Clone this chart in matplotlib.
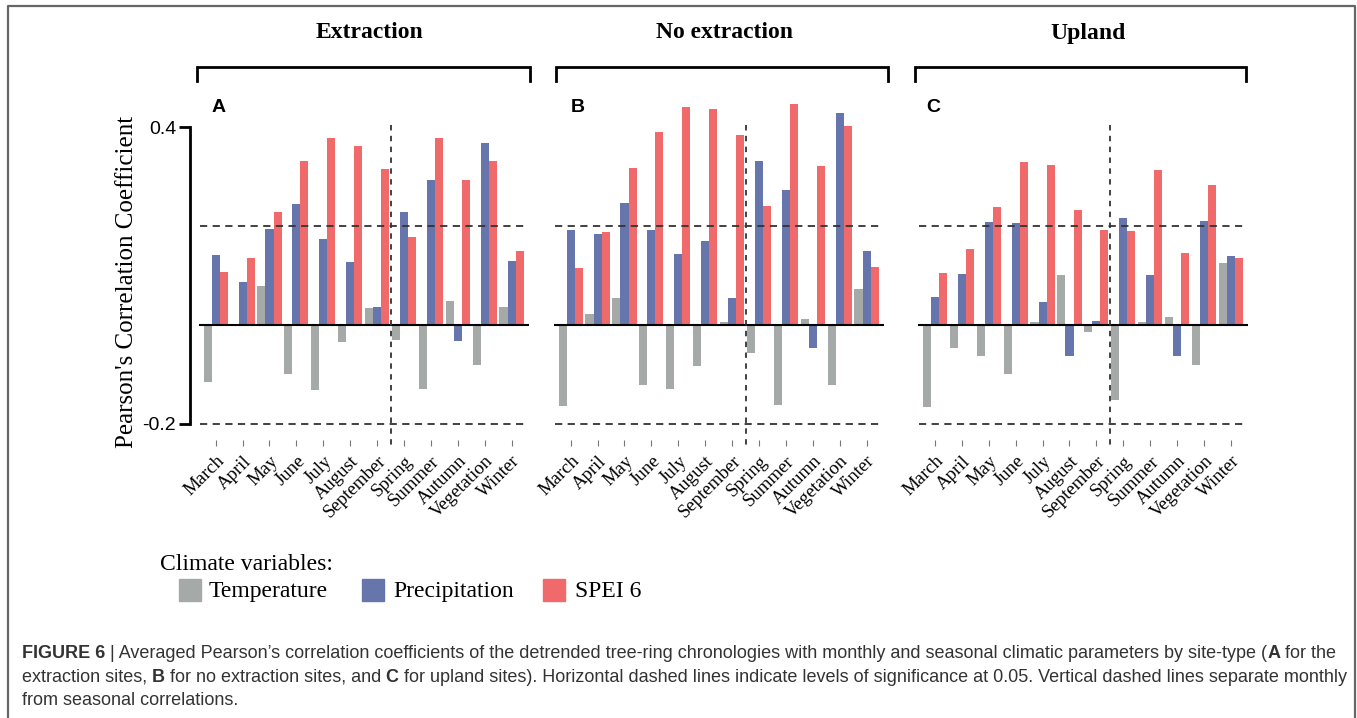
import numpy as np
import matplotlib
matplotlib.use("Agg")
import matplotlib.pyplot as plt
from matplotlib.patches import Rectangle

W, H = 1357, 718
SERIF = "Liberation Serif"
SANS = "Liberation Sans"

periods = ["March", "April", "May", "June", "July", "August", "September",
           "Spring", "Summer", "Autumn", "Vegetation", "Winter"]

# A - extraction sites
temp_a = [-0.116, 0.0, 0.078, -0.099, -0.132, -0.034, 0.033, -0.030, -0.130, 0.047, -0.081, 0.035]
prec_a = [0.141, 0.086, 0.193, 0.245, 0.174, 0.126, 0.036, 0.228, 0.292, -0.032, 0.368, 0.129]
spei_a = [0.106, 0.134, 0.228, 0.332, 0.378, 0.361, 0.316, 0.177, 0.378, 0.292, 0.332, 0.149]

# B - no extraction sites
temp_b = [-0.164, 0.022, 0.055, -0.121, -0.130, -0.083, 0.005, -0.057, -0.163, 0.012, -0.122, 0.072]
prec_b = [0.191, 0.183, 0.247, 0.191, 0.143, 0.169, 0.054, 0.331, 0.272, -0.047, 0.428, 0.150]
spei_b = [0.114, 0.188, 0.318, 0.390, 0.441, 0.436, 0.384, 0.241, 0.447, 0.322, 0.403, 0.117]

# C - upland sites
temp_c = [-0.166, -0.047, -0.064, -0.099, 0.005, 0.101, -0.014, -0.152, 0.005, 0.015, -0.082, 0.124]
prec_c = [0.057, 0.102, 0.207, 0.206, 0.045, -0.064, 0.007, 0.216, 0.101, -0.063, 0.209, 0.139]
spei_c = [0.105, 0.153, 0.239, 0.329, 0.324, 0.232, 0.191, 0.189, 0.313, 0.146, 0.282, 0.134]

signif = 0.2
panel_titles = ["Extraction", "No extraction", "Upland"]
panel_letters = ["A", "B", "C"]
legend_labels = ["Temperature", "Precipitation", "SPEI 6"]

c_temp = "#a5aaa8"
c_prec = "#6676ad"
c_spei = "#f0696b"

fig = plt.figure(figsize=(W / 100, H / 100), dpi=100)

# background axes in pixel coordinates for all the decoration
bg = fig.add_axes([0, 0, 1, 1])
bg.set_xlim(0, W)
bg.set_ylim(H, 0)
bg.axis("off")

# frame (open at the bottom)
bg.plot([8, 8, 1355, 1355], [H + 5, 6, 6, H + 5], color="#666666", lw=1.6, clip_on=False)


def px_axes(left, top, right, bottom):
    return fig.add_axes([left / W, 1 - bottom / H, (right - left) / W, (bottom - top) / H])


unit = 26.9
xlo, xhi = -0.955, 11.65
ylo, yhi = -0.2333, 0.479
lefts = [190, 545, 909.3]
brackets = [(197, 530), (556, 888), (915, 1246)]
title_x = [369, 725, 1088]
letter_x = [212, 571, 926]

data = [(temp_a, prec_a, spei_a), (temp_b, prec_b, spei_b), (temp_c, prec_c, spei_c)]
x = np.arange(len(periods))
w = 0.3

for i, (temp, prec, spei) in enumerate(data):
    left = lefts[i]
    ax = px_axes(left, 88, left + (xhi - xlo) * unit, 440)
    ax.set_xlim(xlo, xhi)
    ax.set_ylim(ylo, yhi)
    ax.patch.set_alpha(0)

    ax.bar(x - w, temp, w, color=c_temp, zorder=2)
    ax.bar(x, prec, w, color=c_prec, zorder=2)
    ax.bar(x + w, spei, w, color=c_spei, zorder=2)

    ax.plot([-0.6, 11.6], [0, 0], color="black", lw=1.5, zorder=3)
    for lev in (signif, -signif):
        ax.plot([-0.6, 11.6], [lev, lev], color="#333333", lw=1.3,
                ls=(0, (4, 3)), zorder=4)
    ax.plot([6.5, 6.5], [0.405, -0.245], color="#333333", lw=1.3,
            ls=(0, (3, 3)), zorder=4, clip_on=False)

    for s in ("top", "right", "bottom"):
        ax.spines[s].set_visible(False)
    if i == 0:
        ax.spines["left"].set_bounds(-0.2, 0.4)
        ax.spines["left"].set_linewidth(2)
        ax.set_yticks([-0.2, 0.4])
        ax.set_yticklabels(["-0.2", "0.4"], fontfamily=SANS, fontsize=14)
        ax.tick_params(axis="y", length=8, width=2, pad=2)
        ax.set_ylabel("Pearson's Correlation Coefficient", fontfamily=SERIF, fontsize=18)
        ax.yaxis.set_label_coords(-0.153, 0.449)
    else:
        ax.spines["left"].set_visible(False)
        ax.set_yticks([])

    ax.set_xticks(x)
    ax.set_xticklabels(periods, rotation=45, ha="right", rotation_mode="anchor",
                       fontfamily=SERIF, fontsize=13.5)
    ax.tick_params(axis="x", length=4, width=0.8, color="#777777", pad=5)

    # title and bracket above each panel
    bg.text(title_x[i], 33, panel_titles[i], ha="center", va="center",
            fontfamily=SERIF, fontweight="bold", fontsize=17)
    b0, b1 = brackets[i]
    bg.plot([b0, b0, b1, b1], [81, 67, 67, 81], color="black", lw=2,
            solid_joinstyle="miter")
    bg.text(letter_x[i], 107, panel_letters[i], ha="left", va="center",
            fontfamily=SANS, fontweight="bold", fontsize=14)

# legend
bg.text(160, 570, "Climate variables:", ha="left", va="baseline",
        fontfamily=SERIF, fontsize=17)
sq_x = [179, 362, 543]
txt_x = [209, 393, 575]
for sx, tx, lab, col in zip(sq_x, txt_x, legend_labels, [c_temp, c_prec, c_spei]):
    bg.add_patch(Rectangle((sx, 579), 22, 22, color=col))
    bg.text(tx, 597, lab, ha="left", va="baseline", fontfamily=SERIF, fontsize=17)

# caption with bold pieces
cap_color = "#333333"
cap_size = 13.0
caption = [
    [("FIGURE 6", "bold"), (" | Averaged Pearson\u2019s correlation coefficients of the detrended "
      "tree-ring chronologies with monthly and seasonal climatic parameters by site-type (", "normal"),
     ("A", "bold"), (" for the", "normal")],
    [("extraction sites,", "normal"), (" B", "bold"), (" for no extraction sites, and", "normal"),
     (" C", "bold"), (" for upland sites). Horizontal dashed lines indicate levels of significance "
      "at 0.05. Vertical dashed lines separate monthly", "normal")],
    [("from seasonal correlations.", "normal")],
]
for k, line in enumerate(caption):
    prev = None
    for seg, weight in line:
        if prev is None:
            prev = bg.text(22, 662 + k * 23.5, seg, ha="left", va="bottom", color=cap_color,
                           fontfamily=SANS, fontsize=cap_size, fontweight=weight)
        else:
            prev = bg.annotate(seg, xy=(1, 0), xycoords=prev, ha="left", va="bottom",
                               color=cap_color, fontfamily=SANS, fontsize=cap_size,
                               fontweight=weight)

fig.savefig("out.png", dpi=100)
